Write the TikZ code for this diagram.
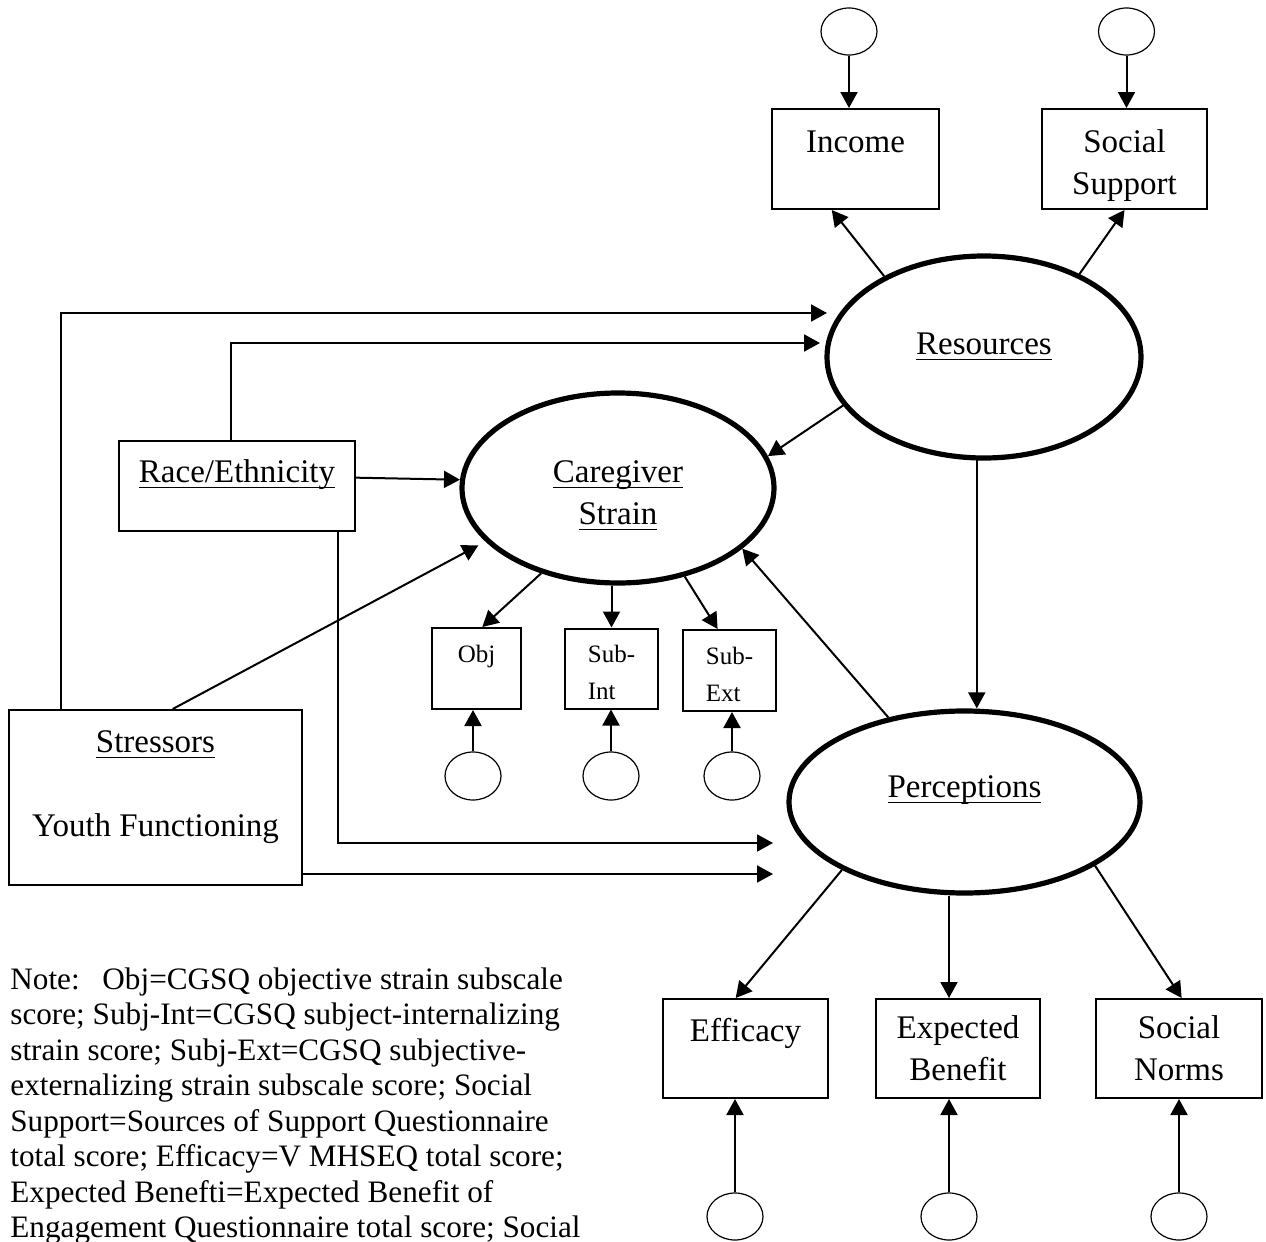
\documentclass[tikz,border=0pt]{standalone}
\usepackage{fontspec}
\setmainfont{Liberation Serif}
\usetikzlibrary{arrows.meta,calc,shapes.geometric,positioning}
\newsavebox{\ulbox}
\newcommand{\uln}[1]{\sbox{\ulbox}{#1}\rlap{\rule[-2.9pt]{\wd\ulbox}{0.7pt}}\usebox{\ulbox}}

\begin{document}
\begin{tikzpicture}[x=0.5pt,y=-0.5pt,>={Triangle[length=8pt,width=8.5pt]}]
% styles
\tikzset{
  obs/.style={draw,line width=1pt,inner sep=0pt,align=center,font=\fontsize{16.5}{21}\selectfont},
  small/.style={obs,font=\fontsize{12.5}{18.5}\selectfont},
  latent/.style={ellipse,draw,line width=2.6pt,inner sep=0pt,align=center,font=\fontsize{16.5}{21}\selectfont},
  err/.style={ellipse,draw,line width=0.6pt,minimum width=28pt,minimum height=23.5pt,inner sep=0pt},
  link/.style={->,line width=1pt},
  note/.style={align=left,inner sep=0pt,font=\fontsize{15.6}{17.75}\selectfont}
}
\useasboundingbox (0,0) rectangle (1266,1242);

% error terms, top
\node[err] (eInc) at (849,31.5) {};
\node[err] (eSoc) at (1126.5,31.5) {};

% resources and its indicators
\node[obs,minimum width=83.5pt,minimum height=50pt] (Income) at (855.5,159) {Income\\[-10pt]\strut};
\node[obs,minimum width=82.5pt,minimum height=50pt] (SocSup) at (1124.5,159) {\strut\\[-17.35pt]Social\\Support};
\node[latent,minimum width=157pt,minimum height=101pt] (Resources) at (984,357) {\uln{Resources}\\[-14pt]\strut};

% covariates
\node[obs,minimum width=118pt,minimum height=45pt] (Race) at (237,486) {\uln{Race/Ethnicity}\\[-12pt]\strut};
\node[obs,minimum width=146.5pt,minimum height=87.5pt] (Stressors) at (155.5,797.5) {\uln{Stressors}\\[21pt]Youth Functioning\\[-13pt]\strut};

% caregiver strain
\node[latent,minimum width=156pt,minimum height=95pt] (Caregiver) at (618,488) {\strut\\[-17.35pt]\uln{Caregiver}\\\uln{Strain}};
\node[small,minimum width=44.5pt,minimum height=40.5pt] (Obj) at (476.5,668.5) {Obj\\[-9.5pt]\strut};
\node[small,align=left,minimum width=46.5pt,minimum height=40pt] (SubInt) at (611.5,668.5) {\strut\\[-19.2pt]Sub-\\Int};
\node[small,align=left,minimum width=46.5pt,minimum height=40.5pt] (SubExt) at (729.5,670.5) {\strut\\[-19.2pt]Sub-\\Ext};
\node[err,minimum height=24pt] (eObj) at (473,776) {};
\node[err,minimum height=24pt] (eSubInt) at (611,776) {};
\node[err,minimum height=24pt] (eSubExt) at (732,776) {};

% perceptions
\node[latent,minimum width=175.5pt,minimum height=91pt] (Perceptions) at (964.5,802) {\uln{Perceptions}\\[-12pt]\strut};
\node[obs,minimum width=82.5pt,minimum height=49.5pt] (Efficacy) at (745.5,1048.5) {Efficacy\\[-9pt]\strut};
\node[obs,minimum width=82pt,minimum height=49.5pt] (ExpBen) at (958,1048.5) {Expected\\Benefit};
\node[obs,minimum width=83pt,minimum height=49.5pt] (SocNorm) at (1179,1048.5) {Social\\Norms};
\node[err] (eEff) at (735,1216.5) {};
\node[err] (eExp) at (949,1216.5) {};
\node[err] (eNorm) at (1179,1216.5) {};

% note
\node[note,anchor=base west] (notes) at (10,1237.5) {Note:\hspace{0.73em}Obj=CGSQ objective strain subscale\\
score; Subj-Int=CGSQ subject-internalizing\\
strain score; Subj-Ext=CGSQ subjective-\\
externalizing strain subscale score; Social\\
Support=Sources of Support Questionnaire\\
total score; Efficacy=V MHSEQ total score;\\
Expected Benefti=Expected Benefit of\\
Engagement Questionnaire total score; Social};

% error arrows
\foreach \e/\v in {eInc/Income,eSoc/SocSup}
\draw[link] (\e) -- (\e |- \v.north);
\foreach \e/\v in {eObj/Obj,eSubInt/SubInt,eSubExt/SubExt,eEff/Efficacy,eExp/ExpBen,eNorm/SocNorm}
\draw[link] (\e) -- (\e |- \v.south);

% loadings
\draw[link] (Resources.141) -- (Income.245);
\draw[link] (Resources.41) -- (SocSup.south);
\draw[link] (Caregiver.-132) -- (Obj.82);
\draw[link] (SubInt.north |- Caregiver.south) -- (SubInt.north);
\draw[link] (Caregiver.-53) -- (SubExt.106);
\draw[link] (Perceptions.209) -- (Efficacy.101);
\draw[link] (Perceptions.south -| eExp) -- (ExpBen.north -| eExp);
\draw[link] (Perceptions.-26) -- (SocNorm.87);

% structural paths
\draw[link] (Resources.199) -- (Caregiver.12);
\draw[link] (Resources.266) -- (Resources.266 |- Perceptions.north);
\draw[link] (Perceptions.132) -- (Caregiver.-26.6);
\draw[link] (Race.4) -- (Caregiver.177);
\draw[link,shorten >=4pt] (Stressors.79) -- (Caregiver.202);

% covariate paths
\coordinate (rIn1) at (827,313);
\coordinate (rIn2) at (820,343);
\coordinate (pIn1) at (773,843);
\coordinate (pIn2) at (773,874);
\draw[link] ($(Stressors.north west)+(53,0)$) |- (rIn1);
\draw[link] ($(Race.north)+(-6,0)$) |- (rIn2);
\draw[link] ($(Race.south east)+(-18,0)$) |- (pIn1);
\draw[link] (Stressors.east |- pIn2) -- (pIn2);
\end{tikzpicture}
\end{document}
